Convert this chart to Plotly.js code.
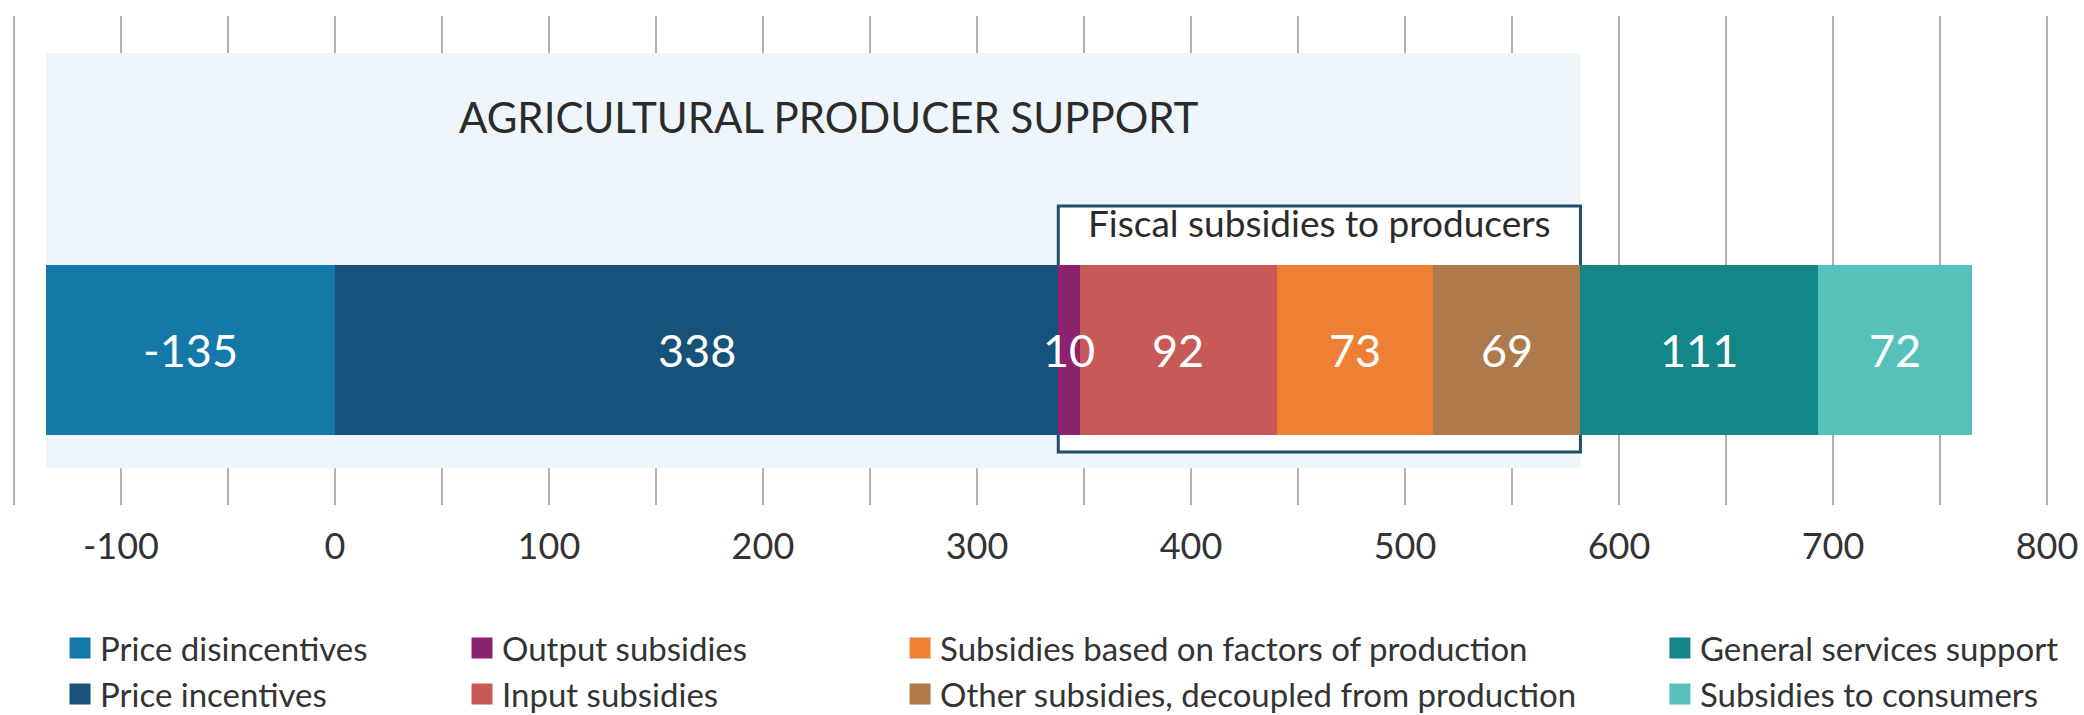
<!DOCTYPE html>
<html>
<head>
<meta charset="utf-8">
<script src="https://cdn.plot.ly/plotly-3.0.1.min.js"></script>
<style>html,body{margin:0;padding:0;background:#fff;}#chart{width:2084px;height:715px;}</style>
</head>
<body>
<div id="chart"></div>
<script>
// ---- data ----
const categories = [
  'Price disincentives',
  'Price incentives',
  'Output subsidies',
  'Input subsidies',
  'Subsidies based on factors of production',
  'Other subsidies, decoupled from production',
  'General services support',
  'Subsidies to consumers'
];
const values = [-135, 338, 10, 92, 73, 69, 111, 72];
const colors = ['#1479A9', '#16527A', '#8C2370', '#C75A57', '#EE8035', '#AE7A4B', '#13868A', '#55C1BA'];
const tickValues = [-150, -100, -50, 0, 50, 100, 150, 200, 250, 300, 350, 400, 450, 500, 550, 600, 650, 700, 750, 800];
const tickLabels = ['', '-100', '', '0', '', '100', '', '200', '', '300', '', '400', '', '500', '', '600', '', '700', '', '800'];
const producerGroup = [0, 1, 2, 3, 4, 5];   // indices inside "Agricultural producer support"
const fiscalGroup = [2, 3, 4, 5];           // indices inside "Fiscal subsidies to producers"
const groupTitles = ['AGRICULTURAL PRODUCER SUPPORT', 'Fiscal subsidies to producers'];

// ---- segment extents as stacked by barmode 'relative' ----
const segs = (function () {
  let pos = 0, neg = 0; const out = [];
  values.forEach(v => {
    if (v >= 0) { out.push([pos, pos + v]); pos += v; }
    else { out.push([neg + v, neg]); neg += v; }
  });
  return out;
})();
function extents(idx) {
  return [Math.min(...idx.map(i => segs[i][0])), Math.max(...idx.map(i => segs[i][1]))];
}
const prodExt = extents(producerGroup);
const fiscExt = extents(fiscalGroup);

const FONT = 'Lato, "Open Sans", sans-serif';
const legendIds = ['legend', 'legend2', 'legend3', 'legend4', 'legend5', 'legend6', 'legend7', 'legend8'];

const traces = [];
values.forEach((v, i) => {
  traces.push({
    type: 'bar', orientation: 'h', y: [0], x: [v], width: [1],
    name: categories[i], showlegend: false,
    marker: { color: colors[i], line: { width: 0 } },
    hoverinfo: 'x+name'
  });
});
// legend entries (one small legend per item)
values.forEach((v, i) => {
  traces.push({
    type: 'scatter', mode: 'markers', x: [null], y: [null],
    name: categories[i], legend: legendIds[i], showlegend: true,
    marker: { symbol: 'square', size: 16, color: colors[i], line: { width: 5, color: colors[i] } },
    hoverinfo: 'skip'
  });
});

// value labels on each segment (drawn above all bars so the narrow one can overflow)
const valueLabels = values.map((v, i) => ({
  xref: 'x', yref: 'y', x: (segs[i][0] + segs[i][1]) / 2, y: 0,
  text: String(v), showarrow: false,
  font: { family: FONT, size: 45, color: '#ffffff' }
}));

// legend layout: 4 columns x 2 rows, column-major
const colX = [0.0288, 0.2217, 0.4319, 0.7965];
const rowY = [-0.2924, -0.3865];
const layout = {
  width: 2084, height: 715,
  margin: { l: 0, r: 0, t: 16, b: 210, autoexpand: false },
  paper_bgcolor: '#ffffff', plot_bgcolor: '#ffffff',
  barmode: 'relative', bargap: 0,
  font: { family: FONT, color: '#333333' },
  xaxis: {
    range: [-156.5, 817.3], fixedrange: true, automargin: false,
    tickmode: 'array', tickvals: tickValues, ticktext: tickLabels,
    showgrid: true, gridcolor: '#b0b0b0', gridwidth: 2,
    zeroline: false, showline: false, ticks: '',
    ticklabelstandoff: 17,
    tickfont: { family: FONT, size: 36, color: '#333333' }
  },
  yaxis: { range: [-0.917, 1.976], visible: false, fixedrange: true },
  shapes: [
    { type: 'rect', layer: 'between', xref: 'x', yref: 'y',
      x0: prodExt[0], x1: prodExt[1], y0: -0.699, y1: 1.757,
      fillcolor: '#EEF6FC', line: { width: 0 } },
    { type: 'rect', layer: 'between', xref: 'x', yref: 'y',
      x0: fiscExt[0], x1: fiscExt[1], y0: -0.604, y1: 0.852,
      fillcolor: '#ffffff', line: { color: '#1F4E6B', width: 3 } }
  ],
  annotations: [
    { xref: 'x', yref: 'y', x: 231, y: 1.378, text: groupTitles[0], showarrow: false,
      font: { family: FONT, size: 42, color: '#2b2b2b' } },
    { xref: 'x', yref: 'y', x: (fiscExt[0] + fiscExt[1]) / 2, y: 0.757, text: groupTitles[1], showarrow: false,
      font: { family: FONT, size: 37, color: '#2b2b2b' } }
  ].concat(valueLabels)
};
legendIds.forEach((id, i) => {
  layout[id] = {
    x: colX[Math.floor(i / 2)], y: rowY[i % 2], xanchor: 'left', yanchor: 'middle',
    bgcolor: 'rgba(0,0,0,0)', borderwidth: 0,
    font: { family: FONT, size: 33, color: '#333333' }
  };
});

Plotly.newPlot('chart', traces, layout, { displayModeBar: false, staticPlot: true });
</script>
</body>
</html>
